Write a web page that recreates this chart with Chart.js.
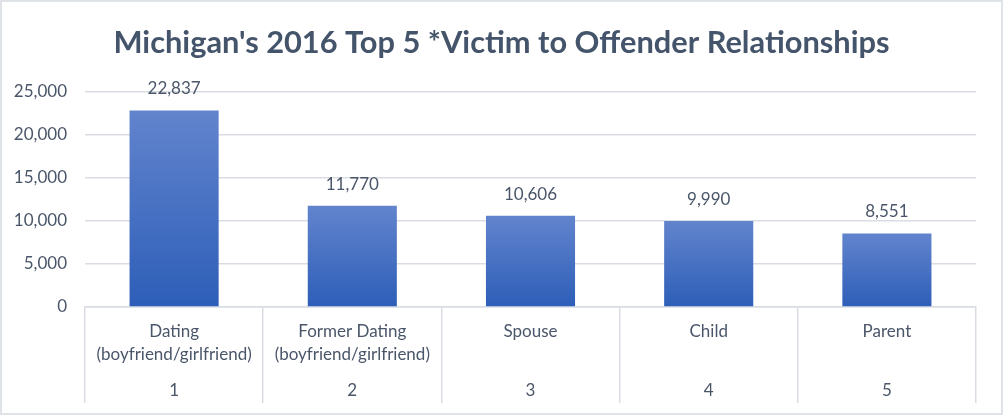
<!DOCTYPE html>
<html>
<head>
<meta charset="utf-8">
<script src="https://cdn.jsdelivr.net/npm/chart.js@4/dist/chart.umd.min.js"></script>
<style>
  html, body { margin: 0; padding: 0; background: #fff; }
  #wrap {
    width: 1003px; height: 415px; box-sizing: border-box;
    border: 2px solid #dfe3e8; background: #fff;
  }
  canvas { display: block; }
</style>
</head>
<body>
<div id="wrap"><canvas id="chart" width="999" height="411"></canvas></div>
<script>
// datos
const relaciones = [
  ['Dating', '(boyfriend/girlfriend)'],
  ['Former Dating', '(boyfriend/girlfriend)'],
  'Spouse',
  'Child',
  'Parent'
];
const rangos = ['1', '2', '3', '4', '5'];
const victimas = [22837, 11770, 10606, 9990, 8551];
const yTicks = [0, 5000, 10000, 15000, 20000, 25000];

const FUENTE = 'Lato, "Open Sans", sans-serif';
const TEXTO = '#4a5669';
const LINEA = '#d9dde3';
const TAM = 17;
const INTERLINEA = 23 / 17;

// degradado por barra, como en Excel
function rellenoBarra(ctx) {
  const chart = ctx.chart;
  if (!chart.chartArea || !ctx.parsed) return '#4472c4';
  const y = chart.scales.y;
  const top = y.getPixelForValue(ctx.parsed.y);
  const bottom = y.getPixelForValue(0);
  const g = chart.ctx.createLinearGradient(0, top, 0, bottom);
  g.addColorStop(0, '#6284cd');
  g.addColorStop(1, '#2d5eb8');
  return g;
}

// etiquetas de valor encima de cada barra
const etiquetasValor = {
  id: 'etiquetasValor',
  afterDatasetsDraw(chart) {
    const c = chart.ctx;
    const meta = chart.getDatasetMeta(0);
    c.save();
    c.font = TAM + 'px ' + FUENTE;
    c.fillStyle = TEXTO;
    c.textAlign = 'center';
    c.textBaseline = 'middle';
    meta.data.forEach((bar, i) => {
      c.fillText(victimas[i].toLocaleString('en-US'), bar.x, bar.y - 21.5);
    });
    c.restore();
  }
};

new Chart(document.getElementById('chart'), {
  type: 'bar',
  data: {
    labels: relaciones,
    datasets: [{
      data: victimas,
      backgroundColor: rellenoBarra,
      borderWidth: 0,
      barPercentage: 0.5,
      categoryPercentage: 1.0,
      xAxisID: 'x',
      yAxisID: 'y'
    }]
  },
  options: {
    responsive: false,
    animation: false,
    layout: { padding: 0 },
    plugins: {
      legend: { display: false },
      tooltip: { enabled: false },
      title: {
        display: true,
        text: "Michigan's 2016 Top 5 *Victim to Offender Relationships",
        color: '#44546a',
        font: { family: FUENTE, size: 30.8, weight: 'bold' },
        padding: { top: 23, bottom: 29.9 }
      }
    },
    scales: {
      y: {
        min: 0,
        max: 25000,
        afterBuildTicks: s => { s.ticks = yTicks.map(v => ({ value: v })); },
        afterFit: s => { s.width = 83; },
        grid: { color: LINEA, lineWidth: 1.5, drawTicks: false },
        border: { display: false },
        ticks: {
          padding: 18,
          color: TEXTO,
          font: { family: FUENTE, size: TAM },
          callback: v => Number(v).toLocaleString('en-US')
        }
      },
      // eje vacío a la derecha: sólo deja el margen del área de trazado
      margen: {
        type: 'linear',
        position: 'right',
        afterFit: s => { s.width = 25; },
        grid: { display: false, drawTicks: false },
        border: { display: false },
        ticks: { display: false }
      },
      x: {
        position: 'bottom',
        offset: true,
        afterFit: s => { s.height = 70; },
        grid: {
          offset: true,
          drawOnChartArea: false,
          drawTicks: true,
          tickLength: 96,
          color: LINEA,
          lineWidth: 1.5
        },
        border: { display: true, color: LINEA, width: 1.5 },
        ticks: {
          padding: -82.5,
          maxRotation: 0,
          autoSkip: false,
          color: TEXTO,
          font: { family: FUENTE, size: TAM, lineHeight: INTERLINEA }
        }
      },
      x2: {
        type: 'category',
        position: 'bottom',
        labels: rangos,
        offset: true,
        afterFit: s => { s.height = 36; },
        grid: { display: false, drawTicks: false },
        border: { display: false },
        ticks: {
          padding: 2.5,
          color: TEXTO,
          font: { family: FUENTE, size: TAM, lineHeight: INTERLINEA }
        }
      }
    }
  },
  plugins: [etiquetasValor]
});
</script>
</body>
</html>
